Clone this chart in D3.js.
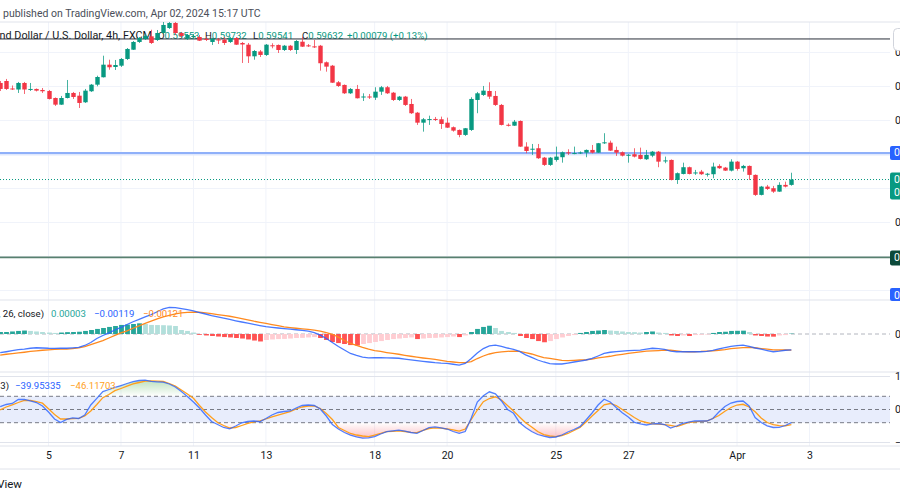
<!DOCTYPE html>
<html><head><meta charset="utf-8">
<script src="https://cdn.jsdelivr.net/npm/d3@7"></script>
<style>
body{margin:0;background:#fff;overflow:hidden}
svg{display:block;font-family:Roboto,"Noto Sans",sans-serif}
</style>
</head><body><svg id="c" width="900" height="500"></svg>
<script>
// ---- DATA (NZD/USD 4h, FXCM) : candle index -8 .. 123 (0 = Mar 5 00:00) ----
const firstIndex = -8;
const open = [0.61052,0.61081,0.60971,0.60956,0.61052,0.60956,0.60964,0.60949,
0.60934,0.60831,0.60733,0.60831,0.60905,0.60865,0.60768,0.60930,0.61027,0.61136,
0.61321,0.61287,0.61306,0.61405,0.61541,0.61655,0.61699,0.61738,0.61684,0.61787,
0.61860,0.61934,0.61787,0.61703,0.61728,0.61728,0.61699,0.61655,0.61691,0.61688,
0.61655,0.61713,0.61640,0.61615,0.61444,0.61515,0.61464,0.61606,0.61611,0.61537,
0.61600,0.61537,0.61659,0.61605,0.61590,0.61600,0.61356,0.61306,0.61062,0.61023,
0.60900,0.60964,0.60846,0.60853,0.60836,0.60924,0.60989,0.60909,0.60802,0.60851,
0.60743,0.60615,0.60468,0.60514,0.60523,0.60518,0.60468,0.60401,0.60361,0.60288,
0.60361,0.60802,0.60876,0.60934,0.60861,0.60729,0.60437,0.60424,0.60493,0.60116,
0.60077,0.60092,0.59954,0.59847,0.59920,0.59960,0.60032,0.60014,0.60023,0.60027,
0.60067,0.60027,0.60170,0.60174,0.60067,0.60033,0.59989,0.60004,0.59994,0.59930,
0.59983,0.60042,0.59905,0.59920,0.59626,0.59714,0.59813,0.59729,0.59748,0.59711,
0.59710,0.59832,0.59807,0.59763,0.59895,0.59798,0.59832,0.59700,0.59406,0.59528,
0.59504,0.59454,0.59553,0.59553];
const high = [0.61081,0.61111,0.61015,0.61067,0.61067,0.61052,0.60971,0.60978,
0.60949,0.60839,0.60861,0.61096,0.60920,0.60920,0.60964,0.61037,0.61159,0.61453,
0.61394,0.61390,0.61419,0.61566,0.61669,0.61728,0.61772,0.61835,0.61831,0.61949,
0.61963,0.61949,0.61802,0.61772,0.61772,0.61758,0.61728,0.61713,0.61713,0.61728,
0.61728,0.61728,0.61655,0.61640,0.61537,0.61537,0.61625,0.61636,0.61618,0.61611,
0.61611,0.61684,0.61733,0.61625,0.61684,0.61611,0.61368,0.61317,0.61081,0.61030,
0.60978,0.61023,0.60900,0.60890,0.60989,0.61008,0.61008,0.60920,0.60861,0.60861,
0.60817,0.60626,0.60537,0.60571,0.60552,0.60557,0.60542,0.60412,0.60368,0.60390,
0.60842,0.60920,0.61008,0.61062,0.60934,0.60743,0.60457,0.60508,0.60501,0.60180,
0.60155,0.60155,0.59964,0.59964,0.60116,0.60045,0.60077,0.60116,0.60045,0.60074,
0.60140,0.60170,0.60313,0.60204,0.60116,0.60045,0.60008,0.60092,0.60101,0.60067,
0.60052,0.60052,0.59969,0.59927,0.59736,0.59880,0.59822,0.59773,0.59773,0.59729,
0.59880,0.59857,0.59817,0.59930,0.59905,0.59847,0.59839,0.59707,0.59538,0.59553,
0.59538,0.59592,0.59601,0.59732];
const low = [0.60934,0.60949,0.60949,0.60905,0.60890,0.60934,0.60927,0.60905,
0.60809,0.60714,0.60729,0.60824,0.60817,0.60684,0.60758,0.60920,0.61003,0.61133,
0.61247,0.61243,0.61287,0.61390,0.61537,0.61640,0.61684,0.61625,0.61669,0.61772,
0.61846,0.61758,0.61713,0.61684,0.61699,0.61669,0.61669,0.61611,0.61625,0.61611,
0.61640,0.61611,0.61346,0.61346,0.61394,0.61434,0.61449,0.61562,0.61493,0.61522,
0.61522,0.61478,0.61581,0.61581,0.61566,0.61233,0.61218,0.61052,0.60993,0.60890,
0.60890,0.60824,0.60787,0.60817,0.60802,0.60876,0.60890,0.60787,0.60787,0.60714,
0.60596,0.60435,0.60336,0.60435,0.60493,0.60376,0.60390,0.60336,0.60254,0.60273,
0.60346,0.60607,0.60861,0.60817,0.60714,0.60427,0.60412,0.60420,0.60111,0.60019,
0.59994,0.59935,0.59832,0.59832,0.59895,0.59880,0.59994,0.60004,0.60008,0.59960,
0.60016,0.60023,0.60155,0.60052,0.59979,0.59971,0.59880,0.59957,0.59927,0.59920,
0.59960,0.59813,0.59872,0.59619,0.59567,0.59707,0.59707,0.59700,0.59700,0.59675,
0.59651,0.59788,0.59758,0.59751,0.59763,0.59748,0.59626,0.59391,0.59398,0.59479,
0.59435,0.59450,0.59516,0.59541];
const close = [0.60964,0.60964,0.60964,0.61052,0.60956,0.60964,0.60939,0.60930,
0.60817,0.60733,0.60831,0.60905,0.60846,0.60758,0.60939,0.61027,0.61140,0.61321,
0.61283,0.61316,0.61405,0.61552,0.61655,0.61713,0.61743,0.61640,0.61787,0.61905,
0.61934,0.61787,0.61743,0.61758,0.61743,0.61674,0.61688,0.61703,0.61677,0.61640,
0.61713,0.61615,0.61618,0.61444,0.61522,0.61464,0.61615,0.61597,0.61537,0.61600,
0.61537,0.61669,0.61586,0.61597,0.61583,0.61342,0.61292,0.61056,0.61008,0.60900,
0.60964,0.60827,0.60853,0.60846,0.60924,0.60989,0.60900,0.60802,0.60851,0.60729,
0.60607,0.60468,0.60518,0.60521,0.60515,0.60449,0.60395,0.60351,0.60288,0.60386,
0.60817,0.60900,0.60939,0.60851,0.60729,0.60435,0.60430,0.60483,0.60116,0.60052,
0.60085,0.59945,0.59847,0.59954,0.59969,0.60033,0.60023,0.60021,0.60030,0.60067,
0.60027,0.60166,0.60179,0.60057,0.60027,0.59983,0.59996,0.59969,0.59935,0.59994,
0.60042,0.59895,0.59913,0.59626,0.59725,0.59813,0.59714,0.59736,0.59710,0.59717,
0.59822,0.59798,0.59763,0.59895,0.59788,0.59832,0.59700,0.59406,0.59528,0.59494,
0.59454,0.59553,0.59528,0.59632];
const priceChange = ["+0.00079", "(+0.13%)"];

const tickIndex  = [0,12,24,36,54,66,84,96,114,126];
const tickLabels = ["5","7","11","13","18","20","25","27","Apr","3"];
const priceTicks = [0.580,0.585,0.590,0.595,0.600,0.605,0.610,0.615];
const drawnLines = [0.61699, 0.60023, 0.58487];   // black, blue, dark green horizontal lines

const macdHist = [0.00015,0.00015,0.00019,0.00023,0.00026,0.00023,0.00019,0.00015,
0.00011,0.00008,0.00011,0.00014,0.00015,0.00017,0.00023,0.00030,0.00038,0.00045,
0.00053,0.00060,0.00068,0.00071,0.00075,0.00080,0.00075,0.00068,0.00067,0.00066,
0.00064,0.00060,0.00030,0.00023,0.00011,-0.00006,-0.00011,-0.00015,-0.00019,-0.00023,
-0.00026,-0.00030,-0.00034,-0.00041,-0.00049,-0.00056,-0.00045,-0.00041,-0.00038,-0.00037,
-0.00034,-0.00030,-0.00029,-0.00026,-0.00023,-0.00030,-0.00045,-0.00060,-0.00068,-0.00075,
-0.00083,-0.00086,-0.00075,-0.00068,-0.00060,-0.00053,-0.00045,-0.00038,-0.00034,-0.00030,
-0.00026,-0.00038,-0.00034,-0.00030,-0.00029,-0.00026,-0.00023,-0.00019,-0.00023,-0.00011,
0.00015,0.00038,0.00053,0.00062,0.00045,0.00023,0.00015,0.00008,-0.00015,-0.00030,
-0.00038,-0.00053,-0.00062,-0.00053,-0.00038,-0.00026,-0.00015,-0.00008,0.00008,0.00015,
0.00023,0.00026,0.00030,0.00026,0.00023,0.00019,0.00015,0.00014,0.00011,0.00015,
0.00019,0.00011,0.00008,-0.00011,-0.00015,-0.00011,-0.00015,-0.00008,-0.00006,-0.00004,
0.00008,0.00015,0.00017,0.00023,0.00024,0.00025,0.00015,-0.00011,-0.00015,-0.00019,
-0.00020,-0.00011,-0.00008,0.00003];
const macdLine = [-0.00140,-0.00133,-0.00125,-0.00117,-0.00113,-0.00107,-0.00103,-0.00105,
-0.00107,-0.00108,-0.00107,-0.00107,-0.00104,-0.00101,-0.00086,-0.00064,-0.00034,-0.00011,
0.00009,0.00030,0.00049,0.00071,0.00092,0.00110,0.00128,0.00146,0.00167,0.00188,
0.00200,0.00198,0.00191,0.00182,0.00173,0.00161,0.00150,0.00138,0.00128,0.00119,
0.00109,0.00099,0.00090,0.00081,0.00072,0.00063,0.00055,0.00050,0.00045,0.00040,
0.00036,0.00032,0.00027,0.00021,0.00011,-0.00008,-0.00034,-0.00064,-0.00094,-0.00120,
-0.00146,-0.00161,-0.00174,-0.00179,-0.00178,-0.00178,-0.00179,-0.00180,-0.00182,-0.00188,
-0.00194,-0.00200,-0.00205,-0.00210,-0.00215,-0.00218,-0.00220,-0.00227,-0.00233,-0.00221,
-0.00184,-0.00143,-0.00109,-0.00089,-0.00083,-0.00092,-0.00105,-0.00116,-0.00131,-0.00156,
-0.00176,-0.00195,-0.00210,-0.00222,-0.00225,-0.00225,-0.00218,-0.00210,-0.00203,-0.00195,
-0.00183,-0.00165,-0.00146,-0.00137,-0.00132,-0.00128,-0.00125,-0.00123,-0.00121,-0.00114,
-0.00107,-0.00110,-0.00116,-0.00129,-0.00133,-0.00133,-0.00133,-0.00133,-0.00133,-0.00131,
-0.00122,-0.00111,-0.00102,-0.00093,-0.00087,-0.00083,-0.00093,-0.00105,-0.00114,-0.00124,
-0.00133,-0.00129,-0.00122,-0.00119];
const signalLine = [-0.00158,-0.00152,-0.00147,-0.00142,-0.00137,-0.00131,-0.00126,-0.00122,
-0.00119,-0.00116,-0.00114,-0.00113,-0.00109,-0.00104,-0.00094,-0.00079,-0.00064,-0.00049,
-0.00030,-0.00011,0.00008,0.00024,0.00043,0.00061,0.00079,0.00096,0.00113,0.00128,
0.00140,0.00151,0.00159,0.00162,0.00163,0.00163,0.00159,0.00153,0.00146,0.00140,
0.00133,0.00125,0.00116,0.00106,0.00096,0.00088,0.00080,0.00071,0.00063,0.00054,
0.00048,0.00043,0.00038,0.00034,0.00029,0.00021,0.00011,-0.00002,-0.00023,-0.00049,
-0.00071,-0.00086,-0.00101,-0.00114,-0.00124,-0.00131,-0.00139,-0.00146,-0.00152,-0.00160,
-0.00167,-0.00174,-0.00180,-0.00185,-0.00191,-0.00198,-0.00205,-0.00210,-0.00214,-0.00215,
-0.00207,-0.00184,-0.00165,-0.00150,-0.00140,-0.00134,-0.00130,-0.00128,-0.00131,-0.00140,
-0.00150,-0.00164,-0.00177,-0.00183,-0.00191,-0.00198,-0.00200,-0.00198,-0.00195,-0.00193,
-0.00189,-0.00179,-0.00173,-0.00167,-0.00159,-0.00153,-0.00146,-0.00139,-0.00134,-0.00128,
-0.00126,-0.00124,-0.00121,-0.00122,-0.00127,-0.00132,-0.00133,-0.00133,-0.00131,-0.00128,
-0.00126,-0.00122,-0.00117,-0.00110,-0.00106,-0.00102,-0.00100,-0.00103,-0.00109,-0.00114,
-0.00119,-0.00120,-0.00120,-0.00121];

const smiLine = [8.5,15.2,18.2,30.3,30.9,25.8,21.2,10.6,
-7.6,-28.8,-39.4,-29.7,-25.2,-27.3,-16.7,13.6,33.9,54.5,
60.6,66.7,72.7,78.8,84.2,87.9,88.8,85.5,83.9,82.7,
77.3,68.2,54.5,39.4,22.7,4.5,-16.7,-36.4,-45.5,-54.5,
-58.5,-50,-40.3,-36.4,-34.8,-37,-27.3,-16.7,-9.1,-6.1,
-4.5,4.5,12.1,13.6,12.1,1.5,-19.7,-45.5,-59.1,-69.7,
-77.9,-83.3,-87,-85.8,-82.1,-74.2,-67.3,-64.5,-62.7,-65.2,
-69.7,-72.1,-63.6,-55.2,-52.4,-55.5,-59.1,-66.7,-72.1,-66.7,
-25.8,22.7,41.8,53.6,47.6,25.8,0,-11.5,-39.4,-54.5,
-66.7,-75.8,-80.9,-84.8,-83.3,-77.3,-68.2,-60.6,-52.1,-31.8,
-10.6,13.6,31.2,22.7,6.1,-9.7,-22.7,-38.8,-43.9,-47,
-43.3,-42.4,-45.5,-56.1,-50,-41.8,-38.5,-34.8,-34.8,-34.8,
-27.3,-7.6,9.1,19.7,24.2,25.8,10.6,-24.2,-39.4,-49.4,
-54.5,-53.9,-48.5,-39.95335];
const smiSignal = [-1.5,7.6,14.2,21.2,27.3,27.3,24.2,19.1,
2.1,-15.2,-28.8,-28.8,-27.9,-26.7,-19.7,-4.5,15.2,35.8,
45.5,57,63.6,70.6,77.3,81.8,85.8,86.4,85.8,84.8,
78.8,71.2,59.1,47,33.9,12.1,-7.6,-24.2,-39.4,-48.5,
-56.1,-54.5,-48.5,-42.4,-37.3,-34.8,-28.8,-22.7,-16.7,-12.1,
-6.7,1.5,7.6,10.6,11.2,3,-12.1,-30.3,-54.5,-63.6,
-72.7,-77.3,-80.3,-82.4,-77.3,-72.7,-67.3,-66.1,-64.5,-66.7,
-69.1,-70.3,-63.6,-57.6,-55.5,-56.7,-59.1,-61.5,-65.2,-59.1,
-30.3,-1.5,23.6,33.3,38.5,28.8,12.1,-4.5,-22.7,-40.3,
-53,-66.7,-75.8,-80.3,-82.4,-78.8,-72.7,-63.6,-54.5,-37.9,
-19.7,-3,14.2,18.2,12.1,0,-12.1,-24.2,-34.8,-39.4,
-43.3,-44.5,-45.8,-48.2,-52.1,-45.5,-39.4,-37.3,-35.8,-34.8,
-27.3,-18.2,-5.5,6.1,13.6,15.8,7.6,-6.7,-25.8,-39.4,
-45.5,-49.1,-49.4,-46.11703];
const smiLevels = [40, 0, -40];

// ---- CHART ----
const svg = d3.select("#c");
const W = 890;
const FS = 9.6;
const idx = i => i + firstIndex;
const x = d3.scaleLinear().domain([0, 114]).range([48.5, 737]);
const yMain = d3.scaleLinear().domain([0.580, 0.615]).range([290.5, 52.5]);
const yMacd = d3.scaleLinear().domain([-0.003, 0.003]).range([374, 294]);
const ySmi = d3.scaleLinear().domain([-100, 100]).range([442.5, 376.5]);
const up = "#089981", dn = "#f23645", grid = "#f0f3fa", border = "#e0e3eb", txt = "#131722";

const defs = svg.append("defs");
defs.append("clipPath").attr("id","clipMain").append("rect").attr("x",0).attr("y",22).attr("width",W).attr("height",278);
defs.append("clipPath").attr("id","clipMacd").append("rect").attr("x",0).attr("y",300).attr("width",W).attr("height",72);
defs.append("clipPath").attr("id","clipSmi").append("rect").attr("x",0).attr("y",372).attr("width",W).attr("height",74);
const gG = defs.append("linearGradient").attr("id","gUp").attr("gradientUnits","userSpaceOnUse")
  .attr("x1",0).attr("x2",0).attr("y1",ySmi(100)).attr("y2",ySmi(40));
gG.append("stop").attr("offset",0).attr("stop-color","#4caf50").attr("stop-opacity",0.45);
gG.append("stop").attr("offset",1).attr("stop-color","#4caf50").attr("stop-opacity",0);
const gR = defs.append("linearGradient").attr("id","gDn").attr("gradientUnits","userSpaceOnUse")
  .attr("x1",0).attr("x2",0).attr("y1",ySmi(-100)).attr("y2",ySmi(-40));
gR.append("stop").attr("offset",0).attr("stop-color","#f23645").attr("stop-opacity",0.4);
gR.append("stop").attr("offset",1).attr("stop-color","#f23645").attr("stop-opacity",0);

// grid: vertical
svg.append("g").selectAll("line").data(tickIndex).join("line")
  .attr("x1",d=>x(d)).attr("x2",d=>x(d)).attr("y1",22).attr("y2",446)
  .attr("stroke",grid).attr("stroke-width",1);
// grid: horizontal main
svg.append("g").selectAll("line").data(priceTicks).join("line")
  .attr("x1",0).attr("x2",W).attr("y1",d=>yMain(d)).attr("y2",d=>yMain(d))
  .attr("stroke",grid).attr("stroke-width",1.2);
// smi top/bottom gridlines
svg.append("g").selectAll("line").data([100,-100]).join("line")
  .attr("x1",0).attr("x2",W).attr("y1",d=>ySmi(d)).attr("y2",d=>ySmi(d))
  .attr("stroke",border).attr("stroke-width",1);
// pane borders
svg.append("g").selectAll("line").data([22,300,372,446,469]).join("line")
  .attr("x1",0).attr("x2",900).attr("y1",d=>d).attr("y2",d=>d)
  .attr("stroke",border).attr("stroke-width",1);

// header text
svg.append("text").attr("x",3).attr("y",17).attr("font-size",10.5).attr("fill","#4a4e59")
  .text("published on TradingView.com, Apr 02, 2024 15:17 UTC");
svg.append("text").attr("x",152).attr("y",39).attr("font-size",10.8).attr("text-anchor","end").attr("fill",txt)
  .text("New Zealand Dollar / U.S. Dollar, 4h, FXCM");
const lastI = close.length-1;
const ohlc = [["O",open[lastI],158],["H",high[lastI],205],["L",low[lastI],253],["C",close[lastI],302]];
ohlc.forEach(([k,v,px])=>{
  const t = svg.append("text").attr("x",px).attr("y",39).attr("font-size",FS);
  t.append("tspan").attr("fill",txt).text(k);
  t.append("tspan").attr("fill",up).text(v.toFixed(5));
});
svg.append("text").attr("x",347).attr("y",39).attr("font-size",FS).attr("fill",up)
  .text(priceChange.join(" "));

// main pane
const main = svg.append("g").attr("clip-path","url(#clipMain)");
main.append("line").attr("x1",0).attr("x2",W).attr("y1",yMain(drawnLines[0])).attr("y2",yMain(drawnLines[0]))
  .attr("stroke","#2a2e39").attr("stroke-width",1);
main.append("line").attr("x1",0).attr("x2",W).attr("y1",yMain(drawnLines[1])+1.5).attr("y2",yMain(drawnLines[1])+1.5)
  .attr("stroke","#dfe8fd").attr("stroke-width",2);
main.append("line").attr("x1",0).attr("x2",W).attr("y1",yMain(drawnLines[1])).attr("y2",yMain(drawnLines[1]))
  .attr("stroke","#8fb0f9").attr("stroke-width",2);
main.append("line").attr("x1",0).attr("x2",W).attr("y1",yMain(drawnLines[2])).attr("y2",yMain(drawnLines[2]))
  .attr("stroke","#58806f").attr("stroke-width",1.6);
main.append("line").attr("x1",0).attr("x2",W).attr("y1",yMain(close[lastI])).attr("y2",yMain(close[lastI]))
  .attr("stroke",up).attr("stroke-width",1).attr("stroke-dasharray","1,2");

const candles = close.map((c,i)=>({i:idx(i),o:open[i],h:high[i],l:low[i],c}));
const cg = main.append("g").selectAll("g").data(candles).join("g");
cg.append("line").attr("x1",d=>Math.round(x(d.i))+0.5).attr("x2",d=>Math.round(x(d.i))+0.5)
  .attr("y1",d=>yMain(d.h)).attr("y2",d=>yMain(d.l))
  .attr("stroke",d=>d.c>=d.o?up:dn).attr("stroke-opacity",0.75).attr("stroke-width",1);
cg.append("rect").attr("x",d=>Math.round(x(d.i))-1.7).attr("width",4.4)
  .attr("y",d=>yMain(Math.max(d.o,d.c)))
  .attr("height",d=>Math.max(1,Math.abs(yMain(d.o)-yMain(d.c))))
  .attr("fill",d=>d.c>=d.o?up:dn);

// MACD pane
const mg = svg.append("g").attr("clip-path","url(#clipMacd)");
mg.append("line").attr("x1",0).attr("x2",W).attr("y1",yMacd(0)).attr("y2",yMacd(0))
  .attr("stroke","#b2b5be").attr("stroke-dasharray","4,3").attr("stroke-width",1);
const histColor = (v,i)=>{
  const p = i>0 ? macdHist[i-1] : v;
  if (v>=0) return (v>=p) ? "#26a69a" : "#b2dfdb";
  return (v<=p) ? "#ff5252" : "#ffcdd2";
};
mg.append("g").selectAll("rect").data(macdHist).join("rect")
  .attr("x",(d,i)=>Math.round(x(idx(i)))-1.9).attr("width",4.8)
  .attr("y",d=>Math.min(yMacd(d),yMacd(0)))
  .attr("height",d=>Math.abs(yMacd(d)-yMacd(0)))
  .attr("fill",histColor);
const lineM = d3.line().x((d,i)=>x(idx(i))).y(d=>yMacd(d));
mg.append("path").attr("d",lineM(signalLine)).attr("fill","none").attr("stroke","#ff8a1f").attr("stroke-width",1.3);
mg.append("path").attr("d",lineM(macdLine)).attr("fill","none").attr("stroke","#2962ff").attr("stroke-width",1.3).attr("stroke-opacity",0.85);
svg.append("text").attr("x",44).attr("y",317).attr("font-size",FS).attr("text-anchor","end").attr("fill",txt).text("MACD (12, 26, close)");
svg.append("text").attr("x",51).attr("y",317).attr("font-size",FS).attr("fill","#26a69a").text(macdHist[lastI].toFixed(5));
svg.append("text").attr("x",94).attr("y",317).attr("font-size",FS).attr("fill","#2962ff").text("\u2212"+Math.abs(macdLine[lastI]).toFixed(5));
svg.append("text").attr("x",143).attr("y",317).attr("font-size",FS).attr("fill","#ff8a1f").text("\u2212"+Math.abs(signalLine[lastI]).toFixed(5));

// SMI pane
const sg = svg.append("g").attr("clip-path","url(#clipSmi)");
sg.append("rect").attr("x",0).attr("width",W).attr("y",ySmi(40)).attr("height",ySmi(-40)-ySmi(40)).attr("fill","#e8edfc");
sg.append("g").selectAll("line").data(smiLevels).join("line")
  .attr("x1",0).attr("x2",W).attr("y1",d=>ySmi(d)).attr("y2",d=>ySmi(d))
  .attr("stroke","#787b86").attr("stroke-dasharray","4,3").attr("stroke-width",1);
const areaUp = d3.area().x((d,i)=>x(idx(i))).y0(ySmi(40)).y1(d=>ySmi(Math.max(d,40)));
const areaDn = d3.area().x((d,i)=>x(idx(i))).y0(ySmi(-40)).y1(d=>ySmi(Math.min(d,-40)));
sg.append("path").attr("d",areaUp(smiLine)).attr("fill","url(#gUp)");
sg.append("path").attr("d",areaDn(smiLine)).attr("fill","url(#gDn)");
const lineS = d3.line().x((d,i)=>x(idx(i))).y(d=>ySmi(d));
sg.append("path").attr("d",lineS(smiSignal)).attr("fill","none").attr("stroke","#ff9f1c").attr("stroke-width",1.3);
sg.append("path").attr("d",lineS(smiLine)).attr("fill","none").attr("stroke","#2962ff").attr("stroke-width",1.3).attr("stroke-opacity",0.8);
svg.append("text").attr("x",9).attr("y",389).attr("font-size",FS).attr("text-anchor","end").attr("fill",txt).text("SMI (10, 3, 3)");
svg.append("text").attr("x",15).attr("y",389).attr("font-size",FS).attr("fill","#2962ff").text("\u2212"+Math.abs(smiLine[lastI]).toFixed(5));
svg.append("text").attr("x",70).attr("y",389).attr("font-size",FS).attr("fill","#ff9f1c").text("\u2212"+Math.abs(smiSignal[lastI]).toFixed(5));

// time axis
const xAxis = d3.axisBottom(x).tickValues(tickIndex).tickFormat((d,i)=>tickLabels[i]).tickSize(0).tickPadding(0);
const ax = svg.append("g").attr("transform","translate(0,452)").call(xAxis);
ax.select(".domain").remove();
ax.selectAll("text").attr("font-size",10.5).attr("fill",txt).attr("font-family","Roboto,'Noto Sans',sans-serif").attr("dy","0.71em");

// price axes (right)
const styleAxis = g => { g.select(".domain").remove();
  g.selectAll("text").attr("font-size",10.5).attr("fill",txt).attr("font-family","Roboto,'Noto Sans',sans-serif"); };
svg.append("g").attr("transform","translate(890,0)")
  .call(d3.axisRight(yMain).tickValues([0.615,0.610,0.605,0.590]).tickFormat(d3.format(".5f")).tickSize(0).tickPadding(5))
  .call(styleAxis);
svg.append("g").attr("transform","translate(890,0)")
  .call(d3.axisRight(yMacd).tickValues([0]).tickFormat(d3.format(".5f")).tickSize(0).tickPadding(5))
  .call(styleAxis);
svg.append("g").attr("transform","translate(890,0)")
  .call(d3.axisRight(ySmi).tickValues([100,0,-100]).tickFormat(d=>d<0?"\u2212"+Math.abs(d).toFixed(2):d.toFixed(2)).tickSize(0).tickPadding(5))
  .call(styleAxis);

// price labels
const tag = (y0,h,fill,lines)=>{
  svg.append("rect").attr("x",890).attr("y",y0).attr("width",30).attr("height",h).attr("rx",2).attr("fill",fill);
  lines.forEach((t,k)=>svg.append("text").attr("x",894).attr("y",y0+10.5+k*12.5).attr("font-size",10.5).attr("fill","#fff").text(t));
};
tag(yMain(drawnLines[1])-7,14,"#2962ff",[drawnLines[1].toFixed(5)]);
tag(yMain(close[lastI])-7,27,up,[close[lastI].toFixed(5),"02:42:41"]);
tag(yMain(drawnLines[2])-7,15,"#0c4a3a",[drawnLines[2].toFixed(5)]);
tag(288,13,"#2962ff",["0.58000"]);
svg.append("rect").attr("x",893.5).attr("y",28.5).attr("width",20).attr("height",22).attr("rx",4)
  .attr("fill","#fff").attr("stroke","#d1d4dc");

// footer
svg.append("text").attr("x",22).attr("y",488).attr("font-size",11.5).attr("text-anchor","end").attr("fill",txt).text("TradingView");
</script>
</body></html>
